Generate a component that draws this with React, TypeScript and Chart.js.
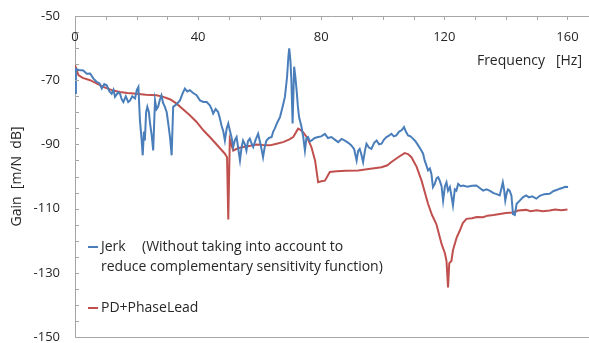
import React, { useEffect, useRef } from "react";
import { Chart, registerables } from "chart.js";

Chart.register(...registerables);

// ---- Data ----
const JERK_FREQ = [
  0, 0.3, 1.2, 2.7, 3.8, 4.9, 6, 7, 8, 8.7, 9.5, 10.3, 11.2, 11.9, 12.5, 13, 14, 14.6, 15.2, 15.7,
  16.5, 17.3, 17.9, 18.6, 19.5, 20.1, 20.6, 21.1, 21.6, 22, 22.4, 22.7, 23.1, 23.5, 24, 24.4, 24.9,
  25.4, 25.7, 26, 26.5, 27, 27.6, 28.1, 28.6, 29.2, 29.8, 30.3, 30.9, 31.4, 31.9, 33, 34.1, 35,
  35.7, 36.5, 37.3, 38.4, 39.5, 40.6, 41.7, 42.8, 43.8, 44.4, 44.9, 45.7, 46.5, 47.1, 47.6, 48.2,
  48.7, 49.3, 49.8, 50.3, 50.9, 51.4, 52, 52.5, 53, 53.6, 54.1, 54.6, 55.2, 55.7, 56.2, 56.8, 57.3,
  57.9, 58.7, 59.5, 60.3, 61.1, 61.6, 62.2, 63, 63.9, 64.4, 64.9, 65.8, 66.6, 67.4, 68.2, 68.9,
  69.3, 69.6, 70, 70.3, 70.7, 71.2, 71.6, 72, 72.4, 72.8, 73.2, 73.6, 74.2, 74.7, 75.2, 75.7, 76.3,
  76.8, 77.9, 79, 80, 81.2, 82.2, 83.3, 84.4, 85.5, 86.6, 87.7, 88.8, 89.8, 90.7, 91.5, 92, 92.5,
  93, 93.6, 94.2, 94.7, 95.5, 96.3, 97.2, 98, 98.8, 99.6, 100.4, 101.2, 102, 102.8, 103.6, 104.4,
  105.3, 106.1, 106.9, 107.5, 108.2, 109, 109.8, 110.6, 111.5, 112.3, 113.1, 113.6, 114.2, 114.7,
  115.3, 115.8, 116.3, 116.9, 117.5, 118, 118.5, 119.1, 119.6, 120.2, 120.7, 121.2, 121.8, 122.3,
  122.8, 123.4, 123.9, 124.5, 125.3, 126.1, 127.5, 129, 130.4, 131.5, 132.6, 133.7, 134.7, 136,
  137, 138, 138.6, 139, 139.4, 139.8, 140.3, 140.7, 141.2, 141.8, 142.3, 142.9, 143.5, 144.5,
  145.5, 146.6, 147.5, 148.5, 149.9, 151, 152.5, 154.2, 155.5, 156.5, 157.5, 158.5, 159.3, 160.2,
];
const JERK_GAIN = [
  -74, -66.5, -66.8, -67, -68, -67.9, -69.5, -70.5, -71, -72.6, -71.2, -71.6, -73.5, -74.2, -73,
  -75.2, -73.8, -74.2, -76, -76.8, -75, -76.8, -76.3, -75, -75.7, -73, -72.1, -82.5, -88, -93.4,
  -86, -88.8, -80, -78.3, -80, -83.5, -87, -91.9, -84, -76.3, -79, -78.3, -76, -74.7, -77, -78.3,
  -80, -83.5, -88, -93.4, -78.3, -77.5, -76.3, -74, -72.6, -73.5, -73.1, -74, -74.7, -76.3, -76.8,
  -76.8, -77.8, -79, -80.4, -79, -79.9, -82, -84.1, -86, -88.8, -85, -83.5, -85.6, -88, -90.8,
  -88.5, -87.7, -91, -95, -91, -88.8, -90, -91.9, -89, -88.2, -89.5, -90.8, -88.5, -86.7, -90, -94,
  -91, -88.8, -88, -87.7, -86, -85.1, -83, -81.5, -78.5, -75.2, -69, -63, -60.1, -64, -70, -83.5,
  -65.8, -69, -73.1, -78, -81.5, -83, -84.6, -88, -91.9, -88, -87.7, -89, -88.8, -88, -87.7, -87.5,
  -86.7, -88, -87.7, -88.5, -89.3, -88.3, -88.8, -89.5, -90.3, -91.5, -95, -92, -91.4, -93, -95.5,
  -92, -89.8, -91, -91.4, -89.5, -88.8, -90, -89.8, -88.5, -87.7, -87.3, -86.7, -87.5, -87.2, -86,
  -85.6, -84.6, -86, -87.2, -87.5, -88.2, -89, -90.3, -91.5, -92.9, -95, -96.6, -98.1, -97.5,
  -99.2, -103.3, -102.3, -100.5, -100.2, -101.3, -103, -107.5, -103, -101.8, -104.4, -103.3, -106,
  -109, -104, -104.4, -102.3, -103, -102.8, -103.2, -102.9, -102.8, -103.6, -104.4, -104, -104.4,
  -105.2, -105.5, -105.9, -103.5, -101.8, -104, -107.5, -105, -104, -104.4, -106, -111.7, -112,
  -108.5, -107.5, -106.5, -105.9, -106.5, -106.2, -106.9, -106, -105.5, -105.4, -104.5, -104.2,
  -103.8, -103.5, -103.2, -103.3,
];

const PD_FREQ = [
  0, 1.1, 2.5, 4.9, 7, 9.2, 12, 14.6, 17, 20, 23, 26.5, 28.7, 31, 33, 35, 37.3, 39.5, 41.7, 43.8,
  45.5, 47.1, 48.7, 49.4, 49.8, 50.3, 51.4, 53, 54.6, 57, 59, 61, 63.3, 65.5, 67.6, 69.5, 70.9,
  72.5, 73.3, 74.1, 75.5, 76.8, 78, 79, 80, 81.2, 82.8, 85, 88, 92, 96, 99.6, 101.5, 102.8, 105,
  107.1, 108.2, 109.3, 111, 112.6, 114.7, 116, 117.4, 119.1, 120.2, 120.7, 121.2, 121.6, 122.3,
  122.8, 124, 125, 126, 127.2, 129, 130.5, 132.6, 134, 136, 138, 140, 142.3, 144, 146.6, 148, 150,
  152, 154.2, 156, 158, 160,
];
const PD_GAIN = [
  -65.3, -68.4, -69.3, -70, -71, -72.1, -73.1, -73.7, -74, -74.2, -74.5, -74.7, -75.2, -76, -77.3,
  -79, -80.9, -83, -85.6, -87.7, -89.5, -91.2, -92.9, -94, -113.4, -88.4, -91.9, -91.2, -90.8,
  -90.4, -90, -90.2, -90.3, -89.8, -89.3, -88.5, -87.7, -85.1, -85.5, -86.2, -88, -90.8, -95,
  -101.8, -101.5, -101.3, -98.6, -98.4, -98.2, -98.1, -97.6, -97.1, -96.5, -95.5, -94, -92.7, -93,
  -94, -97, -101.3, -108.5, -112, -114.8, -121, -124, -126.3, -134.6, -127, -126.3, -123, -119,
  -116.9, -114.5, -113.2, -113, -112.6, -112.7, -112.2, -112, -111.7, -111.4, -111.2, -110.6,
  -110.4, -110.8, -110.5, -110.8, -110.6, -110.3, -110.5, -110.3,
];

const X_TICKS = [0, 40, 80, 120, 160];
const Y_TICKS = [-50, -70, -90, -110, -130, -150];
const LEGEND_JERK = ["Jerk", "(Without taking into account to", "reduce complementary sensitivity function)"];
const LEGEND_PD = "PD+PhaseLead";
const X_TITLE = "Frequency   [Hz]";
const Y_TITLE = "Gain  [m/N  dB]";

const BLUE = "#4A7EBB";
const RED = "#C0504D";
const AXIS = "#A6A6A6";
const TEXT = "#262626";
const FONT = "'Open Sans', sans-serif";

const toPoints = (xs: number[], ys: number[]) => xs.map((x, i) => ({ x, y: ys[i] }));

const overlay = {
  id: "overlay",
  afterDraw(chart: any) {
    const { ctx, chartArea } = chart;
    const x = chart.scales.x;
    const y = chart.scales.y;
    ctx.save();
    // bottom border
    ctx.strokeStyle = AXIS;
    ctx.lineWidth = 1;
    ctx.beginPath();
    ctx.moveTo(chartArea.left, Math.round(chartArea.bottom) + 0.5);
    ctx.lineTo(chartArea.right, Math.round(chartArea.bottom) + 0.5);
    ctx.stroke();
    // minor ticks (inward)
    ctx.beginPath();
    for (let v = 0; v <= 160; v += 10) {
      const px = Math.round(x.getPixelForValue(v)) + 0.5;
      ctx.moveTo(px, chartArea.top);
      ctx.lineTo(px, chartArea.top + 4);
    }
    for (let v = -150; v <= -50; v += 5) {
      const py = Math.round(y.getPixelForValue(v)) + 0.5;
      ctx.moveTo(chartArea.left, py);
      ctx.lineTo(chartArea.left + 4, py);
    }
    ctx.stroke();

    // x tick labels (inside the plot, under the top axis)
    ctx.fillStyle = TEXT;
    ctx.font = `13px ${FONT}`;
    ctx.textAlign = "center";
    ctx.textBaseline = "middle";
    for (const v of X_TICKS) {
      ctx.fillText(String(v), x.getPixelForValue(v), chartArea.top + 21);
    }
    // x title
    ctx.font = `14px ${FONT}`;
    ctx.textAlign = "right";
    ctx.fillText(X_TITLE, chartArea.right - 7, chartArea.top + 45);

    // legend
    ctx.textAlign = "left";
    ctx.lineWidth = 2;
    const lx = chartArea.left + 13;
    ctx.strokeStyle = BLUE;
    ctx.beginPath();
    ctx.moveTo(lx, 247);
    ctx.lineTo(lx + 10, 247);
    ctx.stroke();
    ctx.fillText(LEGEND_JERK[0], lx + 13, 247);
    ctx.fillText(LEGEND_JERK[1], lx + 54, 247);
    ctx.fillText(LEGEND_JERK[2], lx + 13, 267);
    ctx.strokeStyle = RED;
    ctx.beginPath();
    ctx.moveTo(lx, 308);
    ctx.lineTo(lx + 10, 308);
    ctx.stroke();
    ctx.fillText(LEGEND_PD, lx + 13, 308);
    ctx.restore();
  },
};

export default function App() {
  const ref = useRef<HTMLCanvasElement | null>(null);
  useEffect(() => {
    if (!ref.current) return;
    const chart = new Chart(ref.current, {
      type: "scatter",
      data: {
        datasets: [
          {
            label: "Jerk",
            data: toPoints(JERK_FREQ, JERK_GAIN),
            showLine: true,
            borderColor: BLUE,
            backgroundColor: BLUE,
            borderWidth: 2,
            pointRadius: 0,
            tension: 0,
          },
          {
            label: "PD+PhaseLead",
            data: toPoints(PD_FREQ, PD_GAIN),
            showLine: true,
            borderColor: RED,
            backgroundColor: RED,
            borderWidth: 2,
            pointRadius: 0,
            tension: 0,
          },
        ],
      },
      options: {
        animation: false,
        responsive: false,
        devicePixelRatio: 1,
        layout: { padding: { left: 0, right: 0, top: 0, bottom: 6 } },
        plugins: { legend: { display: false }, tooltip: { enabled: false } },
        scales: {
          x: {
            type: "linear",
            position: "top",
            min: 0,
            max: 167,
            grid: { display: false },
            border: { display: true, color: AXIS, width: 1 },
            ticks: { display: false },
            afterFit: (s: any) => {
              s.height = 16;
            },
          },
          y: {
            type: "linear",
            min: -150,
            max: -50,
            grid: { display: false, drawTicks: true, tickLength: 15 },
            border: { display: true, color: AXIS, width: 1 },
            ticks: {
              stepSize: 20,
              padding: 0,
              color: TEXT,
              font: { family: FONT, size: 13, lineHeight: 0.9 },
              callback: (v: any) => (Y_TICKS.includes(Number(v)) ? String(v) : ""),
            },
            title: {
              display: true,
              text: Y_TITLE,
              color: TEXT,
              font: { family: FONT, size: 14 },
              padding: { top: 9, bottom: 0 },
            },
            afterFit: (s: any) => {
              s.width = 75;
            },
          },
        },
      },
      plugins: [overlay],
    });
    return () => chart.destroy();
  }, []);
  return (
    <div style={{ position: "fixed", left: 0, top: 0, width: 589, height: 343, background: "#fff" }}>
      <canvas ref={ref} width={589} height={343} style={{ display: "block", width: 589, height: 343 }} />
    </div>
  );
}
